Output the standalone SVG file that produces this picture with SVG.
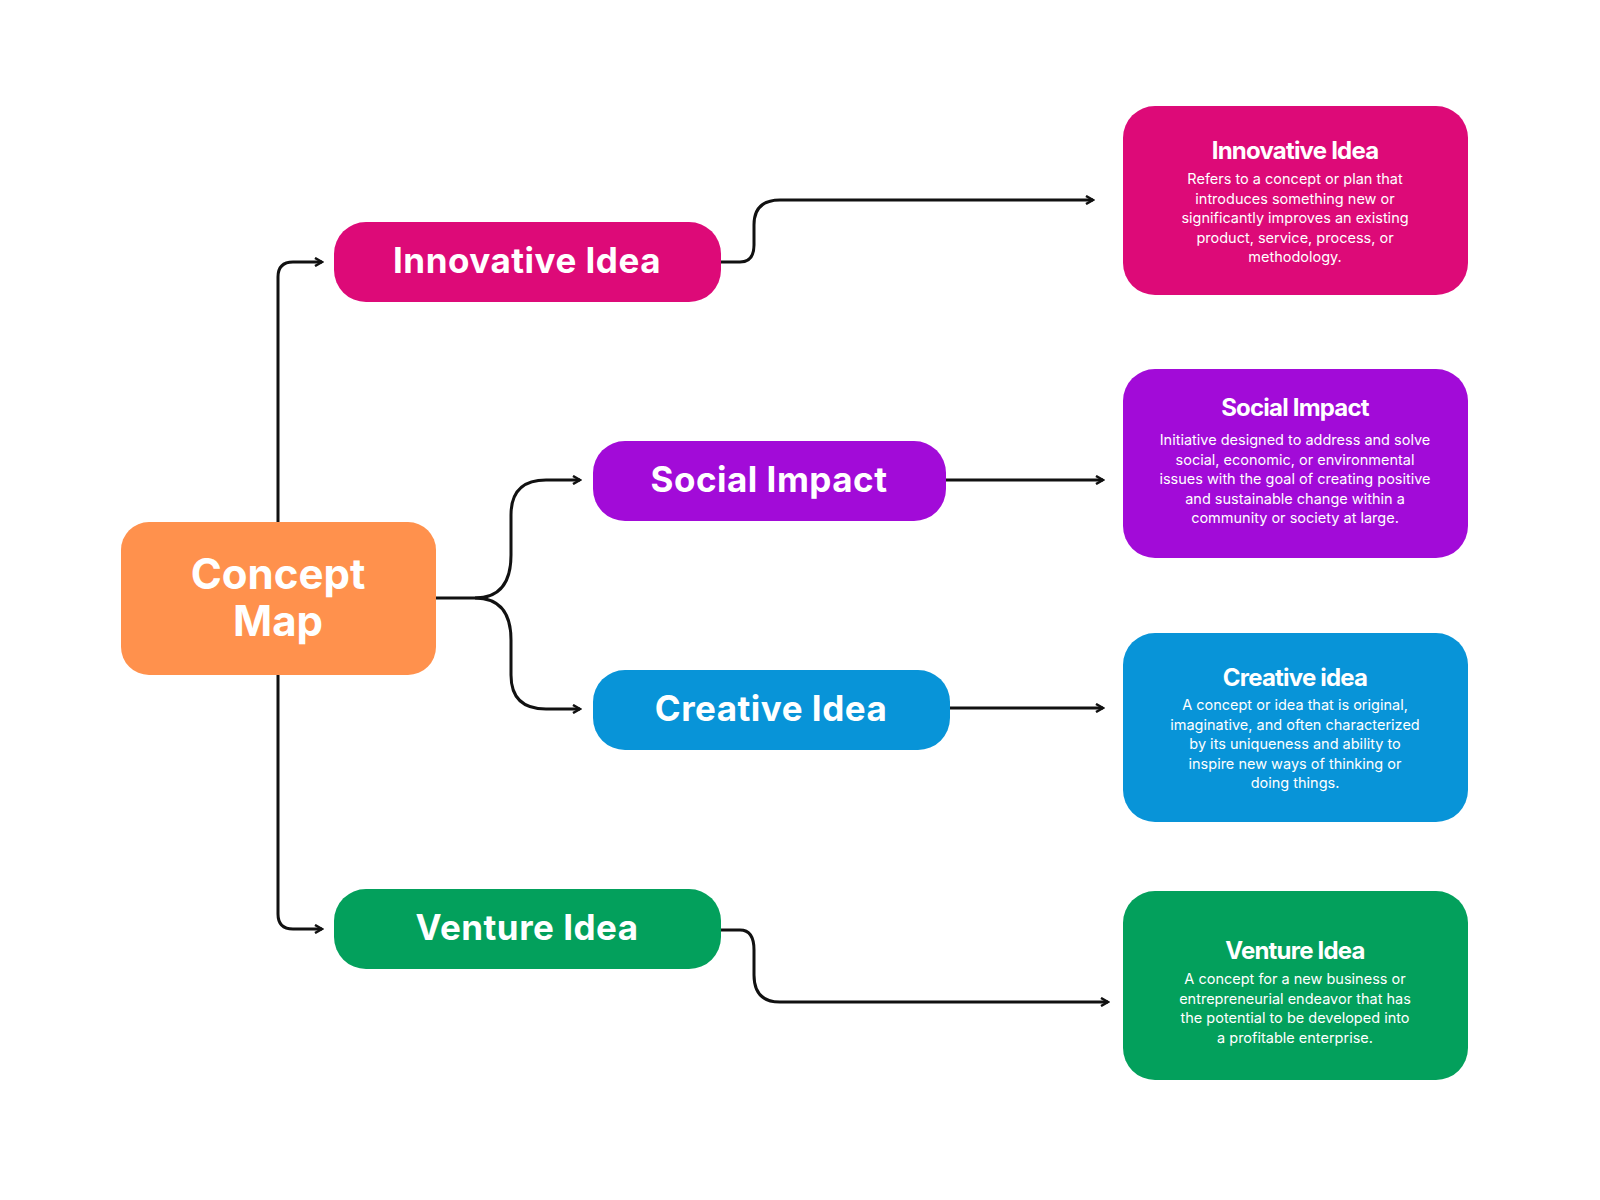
<svg xmlns="http://www.w3.org/2000/svg" width="1600" height="1200" viewBox="0 0 1600 1200">
<style>
.t{font-family:Inter,"Open Sans",sans-serif;fill:#fff;text-anchor:middle}
.pill{font-size:35px;font-weight:700;letter-spacing:0.5px}
.h{font-size:24px;font-weight:700;letter-spacing:-0.8px}
.b{font-size:14.5px}
.c{fill:none;stroke:#111;stroke-width:3}
</style>
<defs><marker id="a" markerWidth="10" markerHeight="10" refX="8" refY="5" orient="auto" markerUnits="userSpaceOnUse"><path d="M1,1 L8,5 L1,9" fill="none" stroke="#111" stroke-width="2.5"/></marker></defs>
<rect width="1600" height="1200" fill="#fff"/>
<g id="connectors">
<path class="c" d="M278,522 V277 Q278,262 293,262 H322" marker-end="url(#a)"/>
<path class="c" d="M278,675 V914 Q278,929 293,929 H322" marker-end="url(#a)"/>
<path class="c" d="M436,598 H475 Q511,598 511,555 V515 Q511,480 546,480 H580" marker-end="url(#a)"/>
<path class="c" d="M475,598 Q511,598 511,640 V675 Q511,709 546,709 H580" marker-end="url(#a)"/>
<path class="c" d="M721,262 H740 Q754,262 754,245 V225 Q754,200 780,200 H1093" marker-end="url(#a)"/>
<path class="c" d="M946,480 H1103" marker-end="url(#a)"/>
<path class="c" d="M950,708 H1103" marker-end="url(#a)"/>
<path class="c" d="M721,930 H740 Q754,930 754,950 V975 Q754,1002 780,1002 H1108" marker-end="url(#a)"/>
</g>
<g id="concept"><rect x="121" y="522" width="315" height="153" rx="28" fill="#FF914D"/><text class="t" x="278" y="589" font-size="42" font-weight="700">Concept</text><text class="t" x="278" y="636" font-size="42" font-weight="700">Map</text></g>
<g id="innovative"><rect x="334" y="222" width="387" height="80" rx="32" fill="#DD0A78"/><text class="t pill" x="527" y="273">Innovative Idea</text></g>
<g id="social"><rect x="593" y="441" width="353" height="80" rx="32" fill="#A20BD8"/><text class="t pill" x="769" y="492">Social Impact</text></g>
<g id="creative"><rect x="593" y="670" width="357" height="80" rx="32" fill="#0894D8"/><text class="t pill" x="771" y="721">Creative Idea</text></g>
<g id="venture"><rect x="334" y="889" width="387" height="80" rx="32" fill="#03A05C"/><text class="t pill" x="527" y="940">Venture Idea</text></g>
<g id="d-innovative"><rect x="1123" y="106" width="345" height="189" rx="32" fill="#DD0A78"/>
<text class="t h" x="1295" y="159">Innovative Idea</text>
<text class="t b" x="1295" y="184">Refers to a concept or plan that</text>
<text class="t b" x="1295" y="203.5">introduces something new or</text>
<text class="t b" x="1295" y="223">significantly improves an existing</text>
<text class="t b" x="1295" y="242.5">product, service, process, or</text>
<text class="t b" x="1295" y="262">methodology.</text></g>
<g id="d-social"><rect x="1123" y="369" width="345" height="189" rx="32" fill="#A20BD8"/>
<text class="t h" x="1295" y="416">Social Impact</text>
<text class="t b" x="1295" y="445">Initiative designed to address and solve</text>
<text class="t b" x="1295" y="464.5">social, economic, or environmental</text>
<text class="t b" x="1295" y="484">issues with the goal of creating positive</text>
<text class="t b" x="1295" y="503.5">and sustainable change within a</text>
<text class="t b" x="1295" y="523">community or society at large.</text></g>
<g id="d-creative"><rect x="1123" y="633" width="345" height="189" rx="32" fill="#0894D8"/>
<text class="t h" x="1295" y="686">Creative idea</text>
<text class="t b" x="1295" y="710">A concept or idea that is original,</text>
<text class="t b" x="1295" y="729.5">imaginative, and often characterized</text>
<text class="t b" x="1295" y="749">by its uniqueness and ability to</text>
<text class="t b" x="1295" y="768.5">inspire new ways of thinking or</text>
<text class="t b" x="1295" y="788">doing things.</text></g>
<g id="d-venture"><rect x="1123" y="891" width="345" height="189" rx="32" fill="#03A05C"/>
<text class="t h" x="1295" y="959">Venture Idea</text>
<text class="t b" x="1295" y="984">A concept for a new business or</text>
<text class="t b" x="1295" y="1003.5">entrepreneurial endeavor that has</text>
<text class="t b" x="1295" y="1023">the potential to be developed into</text>
<text class="t b" x="1295" y="1042.5">a profitable enterprise.</text></g>
</svg>
